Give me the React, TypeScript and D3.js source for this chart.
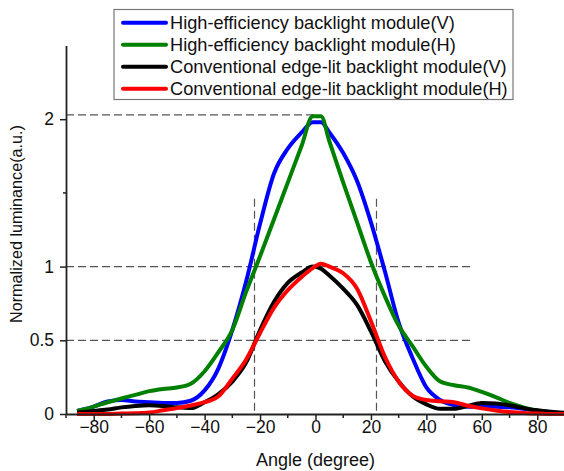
import React, { useEffect, useRef } from 'react';
import * as d3 from 'd3';

const angles = [-86, -80, -75, -70, -65, -60, -55, -50, -45, -40, -35, -30, -25, -20, -15, -10, -5, -1, 2, 5, 10, 15, 20, 25, 30, 35, 40, 45, 50, 55, 60, 65, 70, 75, 80, 85, 90];

const highV = [0.02, 0.05, 0.085, 0.095, 0.085, 0.08, 0.075, 0.075, 0.09, 0.16, 0.31, 0.57, 0.9, 1.29, 1.63, 1.8, 1.91, 1.98, 1.98, 1.91, 1.77, 1.58, 1.3, 0.97, 0.62, 0.38, 0.18, 0.095, 0.06, 0.05, 0.05, 0.05, 0.045, 0.035, 0.022, 0.01, 0.005];
const highH = [0.02, 0.05, 0.08, 0.105, 0.13, 0.155, 0.17, 0.18, 0.205, 0.29, 0.42, 0.57, 0.83, 1.07, 1.32, 1.57, 1.82, 2.02, 2.02, 1.85, 1.57, 1.3, 1.03, 0.8, 0.6, 0.46, 0.32, 0.22, 0.195, 0.18, 0.15, 0.115, 0.075, 0.045, 0.022, 0.01, 0.003];
const convV = [0.01, 0.02, 0.03, 0.045, 0.055, 0.06, 0.055, 0.045, 0.04, 0.08, 0.135, 0.22, 0.35, 0.57, 0.76, 0.89, 0.96, 1.0, 0.985, 0.94, 0.85, 0.74, 0.56, 0.36, 0.22, 0.12, 0.065, 0.035, 0.035, 0.055, 0.075, 0.072, 0.06, 0.04, 0.025, 0.015, 0.008];
const convH = [0.0, 0.0, 0.0, 0.003, 0.005, 0.01, 0.025, 0.04, 0.058, 0.08, 0.12, 0.24, 0.37, 0.55, 0.72, 0.84, 0.93, 0.99, 1.02, 1.0, 0.955, 0.85, 0.63, 0.39, 0.22, 0.125, 0.095, 0.087, 0.08, 0.056, 0.038, 0.024, 0.013, 0.006, 0.003, 0.0, 0.0];

const seriesNames = [
  'High-efficiency backlight module(V)',
  'High-efficiency backlight module(H)',
  'Conventional edge-lit backlight module(V)',
  'Conventional edge-lit backlight module(H)',
];
const seriesColors = ['#0000ff', '#008000', '#000000', '#ff0000'];

const xTicks = [-80, -60, -40, -20, 0, 20, 40, 60, 80];
const yTicks = [0, 0.5, 1, 2];
const yMinorTicks = [1.5];

// guide lines: level and where the dash stops
const hGuideLevels = [2.03, 1, 0.5];
const hGuideEnds = [0, 57, 57];
const vGuideAngles = [-22, 22];
const vGuideTop = 1.46;

const FONT = 'Liberation Sans, Arial, sans-serif';

const Chart = () => {
  const svgRef = useRef<SVGSVGElement | null>(null);
  const width = 564;
  const height = 471;

  useEffect(() => {
    const svg = d3.select(svgRef.current);
    svg.selectAll('*').remove();

    const xScale = d3.scaleLinear().domain([-90, 90]).range([66, 565]);
    const yScale = d3.scaleLinear().domain([0, 2.5]).range([414, 45.5]);

    // dashed guides
    const guides = svg.append('g').attr('stroke', '#555').attr('stroke-width', 1.2).attr('stroke-dasharray', '8,4').attr('fill', 'none');
    hGuideLevels.forEach((v, i) => {
      guides.append('line')
        .attr('x1', xScale(-90)).attr('x2', xScale(hGuideEnds[i]))
        .attr('y1', yScale(v)).attr('y2', yScale(v));
    });
    vGuideAngles.forEach((a) => {
      guides.append('line')
        .attr('x1', xScale(a)).attr('x2', xScale(a))
        .attr('y1', yScale(vGuideTop)).attr('y2', yScale(0));
    });

    // curves
    const line = d3.line<number>()
      .x((d, i) => xScale(angles[i]))
      .y((d) => yScale(d))
      .curve(d3.curveMonotoneX);
    [highV, highH, convV, convH].forEach((vals, k) => {
      svg.append('path')
        .attr('d', line(vals))
        .attr('fill', 'none')
        .attr('stroke', seriesColors[k])
        .attr('stroke-width', 4)
        .attr('stroke-linejoin', 'round');
    });

    // x axis
    const xAxis = d3.axisBottom(xScale).tickValues(xTicks).tickSize(6).tickSizeOuter(0);
    const gx = svg.append('g').attr('transform', `translate(0,${yScale(0)})`).call(xAxis);
    gx.append('g').selectAll('line')
      .data(d3.range(-90, 91, 20))
      .join('line')
      .attr('x1', (d) => xScale(d)).attr('x2', (d) => xScale(d))
      .attr('y1', 0).attr('y2', 4)
      .attr('stroke', '#222').attr('stroke-width', 1.5);

    // y axis
    const yAxis = d3.axisLeft(yScale).tickValues(yTicks).tickSize(6).tickSizeOuter(0).tickFormat((d) => String(d));
    const gy = svg.append('g').attr('transform', `translate(${xScale(-90)},0)`).call(yAxis);
    gy.append('g').selectAll('line')
      .data(yMinorTicks)
      .join('line')
      .attr('x1', -3).attr('x2', 0)
      .attr('y1', (d) => yScale(d)).attr('y2', (d) => yScale(d))
      .attr('stroke', '#222').attr('stroke-width', 1.5);

    [gx, gy].forEach((g) => {
      g.select('.domain').attr('stroke', '#222').attr('stroke-width', 1.8);
      g.selectAll('.tick line').attr('stroke', '#222').attr('stroke-width', 1.5);
      g.selectAll('.tick text').attr('fill', '#111').style('font-family', FONT).style('font-size', '17.5px');
    });
    gx.selectAll('.tick text').attr('dy', '0.71em').attr('y', 7);
    gy.selectAll('.tick text').attr('x', -12);

    // axis titles
    svg.append('text')
      .attr('x', xScale(0)).attr('y', 466)
      .attr('text-anchor', 'middle')
      .style('font-family', FONT).style('font-size', '18px').attr('fill', '#111')
      .text('Angle (degree)');
    svg.append('text')
      .attr('transform', `translate(22,224) rotate(-90)`)
      .attr('text-anchor', 'middle')
      .style('font-family', FONT).style('font-size', '16.2px').attr('fill', '#111')
      .text('Normalized luminance(a.u.)');

    // legend
    const legend = svg.append('g');
    legend.append('rect')
      .attr('x', 114).attr('y', 9.5).attr('width', 399).attr('height', 90)
      .attr('fill', '#fff').attr('stroke', '#777').attr('stroke-width', 1.2);
    seriesNames.forEach((name, i) => {
      const y = 22.7 + i * 22;
      legend.append('line')
        .attr('x1', 123).attr('x2', 166).attr('y1', y).attr('y2', y)
        .attr('stroke', seriesColors[i]).attr('stroke-width', 4).attr('stroke-linecap', 'round');
      legend.append('text')
        .attr('x', 170).attr('y', y).attr('dy', '0.36em')
        .style('font-family', FONT).style('font-size', '18.2px').attr('fill', '#111')
        .text(name);
    });
  }, []);

  return <svg ref={svgRef} width={width} height={height} style={{ position: 'absolute', left: 0, top: 0, background: '#fff' }} />;
};

export default function App() {
  return <Chart />;
}
